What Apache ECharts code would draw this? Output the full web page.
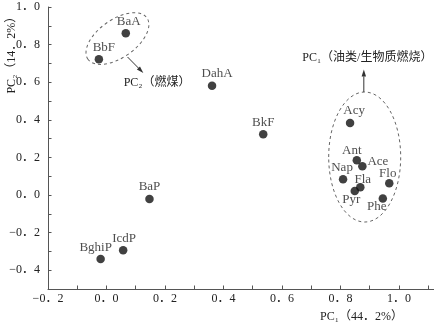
<!DOCTYPE html>
<html>
<head>
<meta charset="utf-8">
<script src="https://cdn.jsdelivr.net/npm/echarts@6/dist/echarts.min.js"></script>
<style>
  html, body { margin: 0; padding: 0; background: #fff; }
  #chart { width: 434px; height: 327px; }
</style>
</head>
<body>
<div id="chart"></div>
<script>
// PCA loadings of the 15 PAHs
const compounds = ['BaA', 'BbF', 'DahA', 'BkF', 'Acy', 'Ant', 'Ace', 'Nap', 'Fla', 'Pyr', 'Flo', 'Phe', 'BaP', 'IcdP', 'BghiP'];
const pc1 = [0.066, -0.026, 0.361, 0.536, 0.833, 0.856, 0.875, 0.809, 0.868, 0.849, 0.967, 0.945, 0.147, 0.057, -0.020];
const pc2 = [0.860, 0.722, 0.581, 0.323, 0.383, 0.185, 0.153, 0.084, 0.041, 0.021, 0.062, -0.018, -0.021, -0.294, -0.340];

// labelled axis ticks
const xTicks = [-0.2, 0.0, 0.2, 0.4, 0.6, 0.8, 1.0];
const yTicks = [-0.4, -0.2, 0.0, 0.2, 0.4, 0.6, 0.8, 1.0];

const xName = 'PC₁（44．2%）';
const yName = 'PC₂（14．2%）';
const coalText = 'PC₂（燃煤）';
const oilText = 'PC₁（油类/生物质燃烧）';

// label placement (text centre relative to the dot, px)
const labelOffset = {
  BaA: [3, -12], BbF: [5, -11.5], DahA: [5, -12], BkF: [0, -12], Acy: [4, -12],
  Ant: [-5, -10], Ace: [15.5, -4.5], Nap: [-1, -11.5], Fla: [2.5, -8], Pyr: [-3.5, 9],
  Flo: [-1.5, -9.5], Phe: [-6, 8], BaP: [0, -12.5], IcdP: [1, -11.5], BghiP: [-5, -11.5]
};

const serif = "'Liberation Serif', 'Times New Roman', 'Noto Sans CJK SC', serif";
const ink = '#222';

function fmtTick(v) {
  const s = Math.abs(v).toFixed(1).replace('.', '．');
  return (v < -1e-9 ? '−' : '') + s;
}

const chart = echarts.init(document.getElementById('chart'), null, { renderer: 'canvas' });

const axisCommon = {
  axisLine: { show: true, onZero: false, lineStyle: { color: '#555', width: 1 } },
  axisTick: { show: true, inside: true, length: 3.5, lineStyle: { color: '#555' } },
  splitLine: { show: false }
};

chart.setOption({
  animation: false,
  backgroundColor: '#fff',
  grid: { left: 48, right: 0, top: 7, bottom: 38, containLabel: false },
  xAxis: Object.assign({
    type: 'value', min: -0.2, max: 1.12, interval: 0.1,
    axisLabel: { show: false }
  }, axisCommon),
  yAxis: Object.assign({
    type: 'value', min: -0.5, max: 1.0, interval: 0.1,
    axisLabel: { show: false }
  }, axisCommon),
  series: [{
    type: 'scatter',
    symbol: 'circle',
    symbolSize: 8.5,
    itemStyle: { color: '#111' },
    label: {
      show: true, position: 'inside', color: ink,
      fontFamily: serif, fontSize: 13,
      formatter: p => p.name
    },
    data: compounds.map((n, i) => ({
      name: n,
      value: [pc1[i], pc2[i]],
      label: { offset: labelOffset[n] }
    }))
  }]
});

// annotation geometry, anchored in data space
function px(x, y) { return chart.convertToPixel({ gridIndex: 0 }, [x, y]); }

function arrow(from, to) {
  const a = px(from[0], from[1]);
  const b = px(to[0], to[1]);
  const dx = b[0] - a[0], dy = b[1] - a[1];
  const len = Math.hypot(dx, dy);
  const ux = dx / len, uy = dy / len;
  const head = 7, half = 2.2;
  const bx = b[0] - ux * head, by = b[1] - uy * head;
  return [
    { type: 'line', z: 50, shape: { x1: a[0], y1: a[1], x2: bx, y2: by }, style: { stroke: '#333', lineWidth: 1 }, silent: true },
    { type: 'polygon', z: 50, shape: { points: [[b[0], b[1]], [bx - uy * half, by + ux * half], [bx + uy * half, by - ux * half]] }, style: { fill: '#333' }, silent: true }
  ];
}

function txt(x, y, text, extra) {
  return Object.assign({ type: 'text', z: 100, x: x, y: y, silent: true,
    style: { text: text, fill: ink, font: '12px ' + serif, align: 'center', verticalAlign: 'middle' } }, extra || {});
}

const cLeft = px(0.0375, 0.832);
const cRight = px(0.883, 0.202);
const coalPos = px(0.173, 0.597);
const oilPos = px(0.892, 0.727);
const xNamePos = px(0.872, -0.5);
const yNamePos = px(-0.2, 0.76);

// tick labels placed on the axis scales
const xLabelTexts = xTicks.map(v => {
  const p = px(v, -0.5);
  return txt(p[0], p[1] + 10, fmtTick(v));
});
const yLabelTexts = yTicks.map(v => {
  const p = px(-0.2, v);
  return txt(p[0] - 8, p[1], fmtTick(v), { style: { text: fmtTick(v), fill: ink, font: '12px ' + serif, align: 'right', verticalAlign: 'middle' } });
});

chart.setOption({
  graphic: [
    { type: 'ellipse', z: 50, x: cLeft[0], y: cLeft[1], rotation: 35 * Math.PI / 180,
      shape: { cx: 0, cy: 0, rx: 36, ry: 19 },
      style: { fill: 'none', stroke: '#666', lineWidth: 1, lineDash: [3, 3] }, silent: true },
    { type: 'ellipse', z: 50, shape: { cx: cRight[0], cy: cRight[1], rx: 36, ry: 65 },
      style: { fill: 'none', stroke: '#666', lineWidth: 1, lineDash: [3, 3] }, silent: true },
    ...arrow([0.072, 0.734], [0.126, 0.649]),
    ...arrow([0.880, 0.548], [0.880, 0.668]),
    ...xLabelTexts,
    ...yLabelTexts,
    txt(coalPos[0], coalPos[1], coalText),
    txt(oilPos[0], oilPos[1], oilText),
    txt(xNamePos[0], xNamePos[1] + 27.5, xName),
    txt(yNamePos[0] - 36, yNamePos[1], yName, { rotation: Math.PI / 2 })
  ]
});
</script>
</body>
</html>
